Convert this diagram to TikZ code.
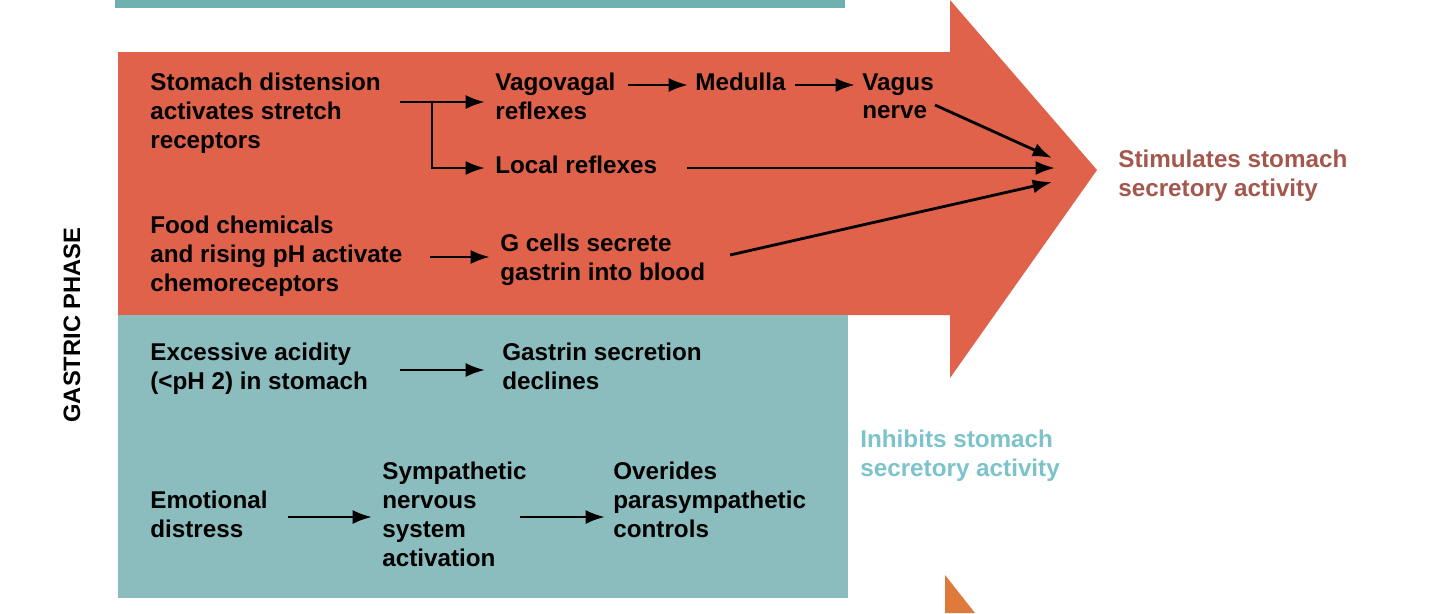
\documentclass[tikz,border=0pt]{standalone}
\usepackage{fontspec}
\setmainfont{Liberation Sans}
\usetikzlibrary{arrows.meta}
\definecolor{redA}{HTML}{E0624B}
\definecolor{tealA}{HTML}{8BBCBE}
\definecolor{tealB}{HTML}{6FB0B0}
\definecolor{orA}{HTML}{E07A3A}
\definecolor{stimC}{HTML}{A4574C}
\definecolor{inhC}{HTML}{7CC3CB}
\begin{document}
\begin{tikzpicture}[x=0.02cm,y=-0.02cm,
  t/.style={anchor=north west,align=left,inner sep=0pt,font=\fontsize{13.8}{16.4}\selectfont\bfseries},
  ar/.style={-{Latex[length=11pt,width=8pt]},line width=1.6pt}]
\useasboundingbox (0,0) rectangle (1440,613);
\fill[tealB] (115,0) rectangle (845,8);
\fill[redA] (118,52) -- (950,52) -- (950,0) -- (1097,170) -- (950,378) -- (950,315) -- (118,315) -- cycle;
\fill[tealA] (118,315) rectangle (848,598);
\fill[orA] (945,575) -- (975,613) -- (945,613) -- cycle;
\node[rotate=90,font=\fontsize{13.5}{15}\selectfont\bfseries] (gp) at (72,325) {GASTRIC PHASE};
\node[t] (sd) at (150,73) {Stomach distension\\activates stretch\\receptors};
\node[t] (vv) at (495,73) {Vagovagal\\reflexes};
\node[t] (me) at (695,73) {Medulla};
\node[t] (vn) at (862,73) {Vagus\\nerve};
\node[t] (lr) at (495,156) {Local reflexes};
\node[t] (fc) at (150,216) {Food chemicals\\and rising pH activate\\chemoreceptors};
\node[t] (gc) at (500,234) {G cells secrete\\gastrin into blood};
\node[t,text=stimC] (st) at (1118,150) {Stimulates stomach\\secretory activity};
\node[t] (ea) at (150,343) {Excessive acidity\\(<pH 2) in stomach};
\node[t] (gs) at (502,343) {Gastrin secretion\\declines};
\node[t,text=inhC] (in) at (860,430) {Inhibits stomach\\secretory activity};
\node[t] (ed) at (150,491) {Emotional\\distress};
\node[t] (sn) at (382,462) {Sympathetic\\nervous\\system\\activation};
\node[t] (op) at (613,462) {Overides\\parasympathetic\\controls};
\coordinate (j) at (432,102);
\coordinate (tip1) at (1052,158);
\coordinate (tip2) at (1055,168);
\coordinate (tip3) at (1052,182);
\draw[line width=1.6pt] (400,102) -- (j);
\draw[ar] (j) -- (485,102);
\draw[ar] (j) -- (432,168) -- (485,168);
\draw[ar] (628,85) -- (688,85);
\draw[ar] (795,85) -- (855,85);
\draw[ar] (935,105) -- (tip1);
\draw[ar] (687,168) -- (tip2);
\draw[ar] (730,255) -- (tip3);
\draw[ar] (430,257) -- (490,257);
\draw[ar] (400,370) -- (485,370);
\draw[ar] (288,517) -- (372,517);
\draw[ar] (520,517) -- (605,517);
\end{tikzpicture}
\end{document}
